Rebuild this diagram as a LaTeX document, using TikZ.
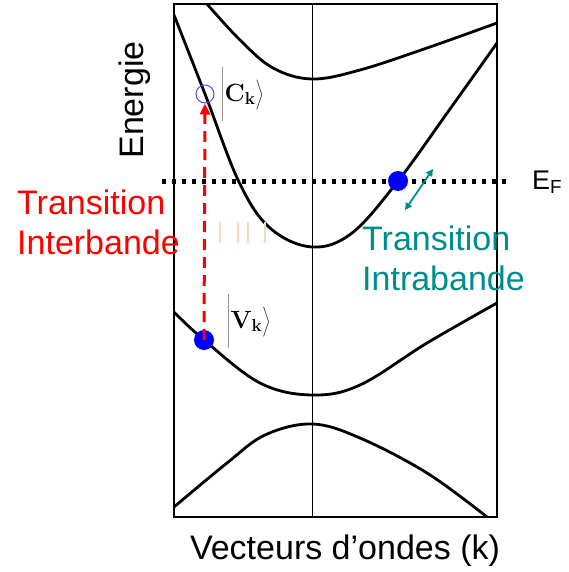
\documentclass[tikz,border=0pt]{standalone}
\usepackage[no-math]{fontspec}
\setmainfont{Liberation Sans}
\usetikzlibrary{arrows.meta}
\definecolor{tealc}{RGB}{0,140,140}
\definecolor{bandblue}{RGB}{0,0,255}
\tikzset{
  band/.style={line width=2.8pt, black},
  frameline/.style={line width=1.4pt, black},
  bigtxt/.style={font=\fontsize{34}{40}\selectfont, inner sep=0pt, align=left},
  dot/.style={circle, fill=bandblue, minimum size=20pt, inner sep=0pt},
  holedot/.style={circle, draw=bandblue!70, line width=1pt, minimum size=18pt, inner sep=0pt},
  ket/.style={font=\fontsize{27}{30}\selectfont, inner sep=0pt},
  faint/.style={line width=1.5pt, pink!70}
}
\newcommand{\myket}[1]{$\left|\rule[-21pt]{0pt}{46pt}\mathbf{#1}_{\mathbf{k}}\right\rangle$}
\begin{document}
\begin{tikzpicture}[x=1pt,y=-1pt]
\useasboundingbox (0,0) rectangle (568,572);
% frame
\draw[frameline] (174,4) rectangle (497,517);
\draw[line width=1pt] (312,4) -- (312,517);
% bands
\begin{scope}
\clip (174,4) rectangle (497,517);
\draw[band] plot[smooth, tension=0.6] coordinates {(207,4) (240,40) (273,68) (312,79) (360,70) (427,48) (497,23)};
\draw[band] plot[smooth, tension=0.6] coordinates {(174,15) (205,94) (239,182) (270,228) (312,247) (352,233) (398,181) (450,109) (497,43)};
\draw[band] plot[smooth, tension=0.6] coordinates {(174,312) (204,340) (260,383) (312,395) (360,385) (427,343) (497,303)};
\draw[band] plot[smooth, tension=0.6] coordinates {(174,507) (227,463) (265,435) (312,424) (360,438) (427,473) (487,517)};
\end{scope}
% Fermi level
\coordinate (fl) at (162,181);
\coordinate (fr) at (508,181);
\draw[line width=5pt, dash pattern=on 4pt off 6pt] (fl) -- (fr);
% faint marks
\draw[faint] (220,222) -- (220,243);
\draw[faint] (238,222) -- (238,243);
\draw[faint] (248,222) -- (248,243);
\draw[faint] (265,222) -- (265,243);
% points
\node[holedot] (ck) at (205,94) {};
\node[dot] (vk) at (204,340) {};
\node[dot] (ef) at (398,181) {};
% interband arrow
\draw[red, line width=3pt, dash pattern=on 11pt off 7pt, -{Triangle[length=11pt,width=10pt]}] (vk.center) -- (ck.south);
% intraband arrow
\coordinate (ia) at (405,210);
\coordinate (ib) at (433,169);
\draw[tealc, line width=1.8pt, {Triangle[length=7pt,width=7pt]}-{Triangle[length=7pt,width=7pt]}] (ia) -- (ib);
% kets
\node[ket, anchor=west] (ckl) at (221,95) {\myket{C}};
\node[ket, anchor=west] (vkl) at (227,322) {\myket{V}};
% labels
\node[bigtxt, rotate=90] (en) at (135,100) {Energie};
\node[bigtxt, red, anchor=north west] (t1) at (17,190) {Transition\\Interbande};
\node[bigtxt, tealc, anchor=north west] (t2) at (362,226) {Transition\\Intrabande};
\node[font=\fontsize{27}{30}\selectfont, inner sep=0pt, anchor=base west] (efl) at (532,189) {E\textsubscript{F}};
\node[bigtxt, anchor=base] (xl) at (345,559) {Vecteurs d’ondes (k)};
\end{tikzpicture}
\end{document}
